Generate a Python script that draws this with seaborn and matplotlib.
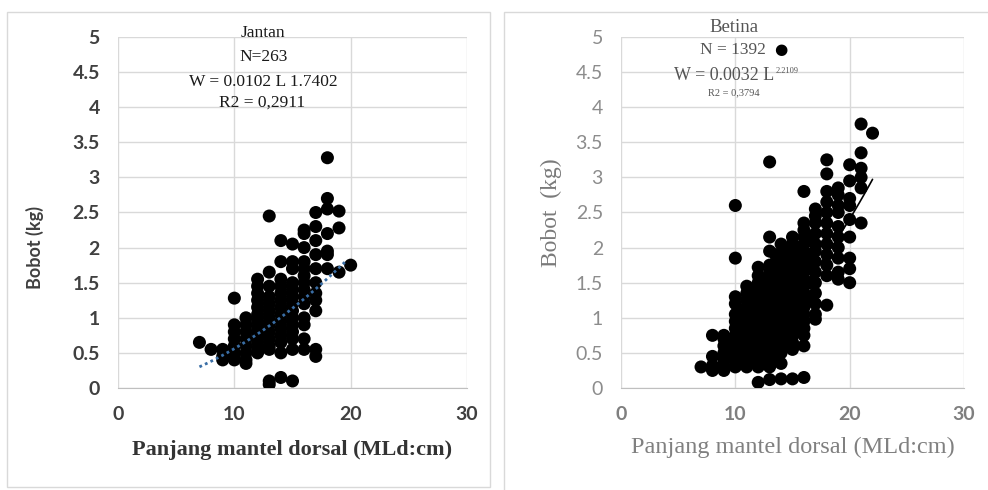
import numpy as np
import pandas as pd
import matplotlib
matplotlib.use("Agg")
import matplotlib.pyplot as plt
import seaborn as sns
from matplotlib.patches import Rectangle

# Jantan (jantan) - panjang mantel dorsal (cm) dan bobot (kg)
jantan_len = [7,
              8,
              9, 9, 9,
              10, 10, 10, 10, 10, 10, 10, 10,
              11, 11, 11, 11, 11, 11, 11, 11,
              12, 12, 12, 12, 12, 12, 12, 12, 12, 12, 12, 12,
              13, 13, 13, 13, 13, 13, 13, 13, 13, 13, 13, 13, 13, 13,
              14, 14, 14, 14, 14, 14, 14, 14, 14, 14, 14, 14, 14, 14,
              15, 15, 15, 15, 15, 15, 15, 15, 15, 15, 15, 15, 15, 15,
              16, 16, 16, 16, 16, 16, 16, 16, 16, 16, 16, 16, 16, 16,
              17, 17, 17, 17, 17, 17, 17, 17, 17, 17, 17,
              18, 18, 18, 18, 18, 18, 18,
              19, 19, 19,
              20]
jantan_bobot = [0.65,
                0.55,
                0.55, 0.45, 0.40,
                1.28, 0.90, 0.80, 0.70, 0.60, 0.50, 0.45, 0.40,
                1.00, 0.90, 0.80, 0.70, 0.60, 0.50, 0.40, 0.35,
                1.55, 1.45, 1.35, 1.25, 1.15, 1.05, 0.95, 0.85, 0.75, 0.65, 0.55, 0.50,
                2.45, 1.65, 1.45, 1.30, 1.20, 1.10, 1.00, 0.90, 0.80, 0.70, 0.60, 0.55, 0.10, 0.05,
                2.10, 1.80, 1.55, 1.45, 1.35, 1.25, 1.15, 1.05, 0.95, 0.85, 0.75, 0.65, 0.50, 0.15,
                2.05, 1.80, 1.70, 1.50, 1.40, 1.30, 1.20, 1.10, 1.00, 0.90, 0.80, 0.70, 0.55, 0.10,
                2.25, 2.20, 2.00, 1.80, 1.70, 1.60, 1.50, 1.40, 1.30, 1.20, 1.00, 0.90, 0.70, 0.55,
                2.50, 2.30, 2.10, 1.90, 1.70, 1.50, 1.35, 1.25, 1.10, 0.55, 0.45,
                3.28, 2.70, 2.55, 2.20, 1.95, 1.90, 1.70,
                2.52, 2.28, 1.65,
                1.75]

# Betina
betina_len = [7,
              8, 8, 8, 8,
              9, 9, 9, 9, 9, 9, 9,
              10, 10, 10, 10, 10, 10, 10, 10, 10, 10, 10, 10, 10,
              10.5, 10.5, 10.5, 10.5, 10.5, 10.5,
              11, 11, 11, 11, 11, 11, 11, 11, 11, 11, 11, 11, 11,
              11.5, 11.5, 11.5, 11.5, 11.5, 11.5, 11.5,
              12, 12, 12, 12, 12, 12, 12, 12, 12, 12, 12, 12, 12, 12, 12, 12,
              12.5, 12.5, 12.5, 12.5, 12.5, 12.5, 12.5, 12.5, 12.5,
              13, 13, 13, 13, 13, 13, 13, 13, 13, 13, 13, 13, 13, 13, 13, 13, 13, 13, 13, 13,
              13.5, 13.5, 13.5, 13.5, 13.5, 13.5, 13.5, 13.5, 13.5, 13.5, 13.5,
              14, 14, 14, 14, 14, 14, 14, 14, 14, 14, 14, 14, 14, 14, 14, 14, 14, 14,
              14.5, 14.5, 14.5, 14.5, 14.5, 14.5, 14.5, 14.5, 14.5, 14.5,
              15, 15, 15, 15, 15, 15, 15, 15, 15, 15, 15, 15, 15, 15, 15, 15, 15, 15,
              15.5, 15.5, 15.5, 15.5, 15.5, 15.5, 15.5, 15.5, 15.5,
              16, 16, 16, 16, 16, 16, 16, 16, 16, 16, 16, 16, 16, 16, 16, 16, 16, 16, 16, 16,
              16.5, 16.5, 16.5, 16.5, 16.5,
              17, 17, 17, 17, 17, 17, 17, 17, 17, 17, 17, 17, 17,
              18, 18, 18, 18, 18, 18, 18, 18, 18, 18, 18, 18,
              19, 19, 19, 19, 19, 19, 19, 19, 19, 19,
              20, 20, 20, 20, 20, 20, 20, 20, 20,
              21, 21, 21, 21, 21, 21,
              22]
betina_bobot = [0.30,
                0.25, 0.32, 0.45, 0.75,
                0.25, 0.32, 0.40, 0.50, 0.60, 0.70, 0.75,
                0.30, 0.38, 0.45, 0.55, 0.65, 0.75, 0.85, 0.95, 1.05, 1.20, 1.30, 1.85, 2.60,
                0.35, 0.50, 0.65, 0.80, 0.95, 1.10,
                0.30, 0.35, 0.45, 0.55, 0.65, 0.75, 0.85, 0.95, 1.05, 1.15, 1.25, 1.35, 1.45,
                0.40, 0.55, 0.70, 0.85, 1.00, 1.15, 1.30,
                0.08, 0.30, 0.40, 0.50, 0.60, 0.70, 0.80, 0.90, 1.00, 1.10, 1.20, 1.30, 1.40, 1.50, 1.60, 1.72,
                0.35, 0.50, 0.65, 0.80, 0.95, 1.10, 1.25, 1.40, 1.55,
                0.12, 0.30, 0.35, 0.45, 0.55, 0.65, 0.75, 0.85, 0.95, 1.05, 1.15, 1.25, 1.35, 1.45, 1.55, 1.65, 1.75, 1.95, 2.15, 3.22,
                0.40, 0.55, 0.70, 0.85, 1.00, 1.15, 1.30, 1.45, 1.60, 1.75, 1.90,
                0.13, 0.35, 0.50, 0.60, 0.70, 0.80, 0.90, 1.00, 1.10, 1.20, 1.30, 1.40, 1.50, 1.60, 1.70, 1.80, 1.90, 2.05,
                0.60, 0.75, 0.90, 1.05, 1.20, 1.35, 1.50, 1.65, 1.80, 1.95,
                0.13, 0.55, 0.65, 0.75, 0.85, 0.95, 1.05, 1.15, 1.25, 1.35, 1.45, 1.55, 1.65, 1.75, 1.85, 1.95, 2.05, 2.15,
                0.80, 0.95, 1.10, 1.25, 1.40, 1.55, 1.70, 1.85, 2.00,
                0.15, 0.60, 0.75, 0.85, 0.95, 1.05, 1.15, 1.25, 1.35, 1.45, 1.55, 1.65, 1.75, 1.85, 1.95, 2.05, 2.15, 2.25, 2.35, 2.80,
                1.30, 1.50, 1.70, 1.90, 2.10,
                0.98, 1.05, 1.20, 1.35, 1.50, 1.65, 1.80, 1.95, 2.05, 2.20, 2.35, 2.45, 2.55,
                1.18, 1.60, 1.75, 1.90, 2.05, 2.20, 2.35, 2.50, 2.65, 2.80, 3.05, 3.25,
                1.55, 1.65, 1.85, 2.00, 2.15, 2.30, 2.50, 2.60, 2.75, 2.85,
                1.50, 1.70, 1.85, 2.15, 2.40, 2.60, 2.70, 2.95, 3.18,
                2.35, 2.85, 3.00, 3.13, 3.35, 3.76,
                3.63]

# persamaan W = a L^b
jantan_a, jantan_b = 0.0102, 1.7402
betina_a, betina_b = 0.0032, 2.2109

x_ticks = [0, 10, 20, 30]
y_ticks = [0, 0.5, 1, 1.5, 2, 2.5, 3, 3.5, 4, 4.5, 5]
y_ticklabels = ["0", "0.5", "1", "1.5", "2", "2.5", "3", "3.5", "4", "4.5", "5"]

sns.set_style("white")
plt.rcParams["font.family"] = ["Lato", "DejaVu Sans"]

fig = plt.figure(figsize=(9.88, 4.9), dpi=100)
W, H = 988, 490

def px(x0, y0, x1, y1):
    return [x0 / W, 1 - y1 / H, (x1 - x0) / W, (y1 - y0) / H]

# bingkai panel
fig.add_artist(Rectangle((7 / W, 1 - 487 / H), 483 / W, 475 / H, transform=fig.transFigure,
                         fill=False, edgecolor="#d9d9d9", lw=1))
fig.add_artist(Rectangle((504 / W, -0.01), 0.6, 1 - 12 / H + 0.01, transform=fig.transFigure,
                         fill=False, edgecolor="#d9d9d9", lw=1))

ax1 = fig.add_axes(px(118, 37, 467, 388))
ax2 = fig.add_axes(px(621, 37, 964, 388))

df_j = pd.DataFrame({"len": jantan_len, "bobot": jantan_bobot})
df_b = pd.DataFrame({"len": betina_len, "bobot": betina_bobot})

sns.scatterplot(data=df_j, x="len", y="bobot", ax=ax1, color="black", s=88,
                edgecolor="none", zorder=3)
sns.scatterplot(data=df_b, x="len", y="bobot", ax=ax2, color="black", s=88,
                edgecolor="none", zorder=3)

Lj = np.linspace(7, 19.6, 40)
sns.lineplot(x=Lj, y=jantan_a * Lj ** jantan_b, ax=ax1, color="#3a6ea5",
             lw=2, linestyle=(0, (1, 1.2)), zorder=4)
Lb = np.linspace(7, 22, 40)
sns.lineplot(x=Lb, y=betina_a * Lb ** betina_b, ax=ax2, color="black",
             lw=1.2, zorder=2)

for ax in (ax1, ax2):
    ax.set_xlim(0, 30)
    ax.set_ylim(0, 5)
    ax.set_xticks(x_ticks)
    ax.set_yticks(y_ticks)
    ax.set_yticklabels(y_ticklabels)
    ax.grid(True, color="#d9d9d9", lw=1)
    ax.set_axisbelow(True)
    for s in ("top", "right", "left"):
        ax.spines[s].set_visible(False)
    ax.spines["bottom"].set_color("#bfbfbf")
    ax.tick_params(length=0)
    ax.tick_params(axis="y", pad=13)
    ax.tick_params(axis="x", pad=13)

# panel kiri
for lab in ax1.get_xticklabels() + ax1.get_yticklabels():
    lab.set_fontsize(14)
    lab.set_fontweight("bold")
    lab.set_color("#404040")
ax1.set_xlabel("Panjang mantel dorsal (MLd:cm)", family="Liberation Serif",
               fontsize=16, fontweight="bold", color="#333333", labelpad=12)
ax1.set_ylabel("Bobot (kg)", fontsize=13, fontweight="bold", color="#404040")
ax1.yaxis.set_label_coords(-0.212, 0.40)

# panel kanan
for lab in ax2.get_yticklabels():
    lab.set_fontsize(14)
    lab.set_color("#8c8c8c")
for lab in ax2.get_xticklabels():
    lab.set_fontsize(14)
    lab.set_fontweight("bold")
    lab.set_color("#7f7f7f")
ax2.set_xlabel("Panjang mantel dorsal (MLd:cm)", family="Liberation Serif",
               fontsize=17.5, color="#808080", labelpad=10)
ax2.set_ylabel("Bobot  (kg)", family="Liberation Serif", fontsize=17, color="#7a7a7a")
ax2.yaxis.set_label_coords(-0.172, 0.5)

# anotasi
serif = ["Liberation Serif", "DejaVu Sans"]
ink = "#1a1a1a"
fig.text(263 / W, 1 - 33 / H, "Jantan", family=serif, fontsize=12.5, ha="center", va="center", color=ink)
fig.text(264 / W, 1 - 57 / H, "N=263", family=serif, fontsize=12.5, ha="center", va="center", color=ink)
fig.text(263 / W, 1 - 82 / H, "W = 0.0102 L 1.7402", family=serif, fontsize=12.5, ha="center", va="center", color=ink)
fig.text(262 / W, 1 - 103 / H, "R2 = 0,2911", family=serif, fontsize=12.5, ha="center", va="center", color=ink)

grey = "#555555"
fig.text(734 / W, 1 - 28 / H, "Betina", family=serif, fontsize=13.5, ha="center", va="center", color=grey)
fig.text(733 / W, 1 - 50 / H, "N = 1392", family=serif, fontsize=12.5, ha="center", va="center", color=grey)
fig.text(781 / W, 1 - 50 / H, "●", family=["DejaVu Sans"], fontsize=11, ha="center", va="center", color="black")
fig.text(774 / W, 1 - 75 / H, "W = 0.0032 L", family=serif, fontsize=13, ha="right", va="center", color=grey)
fig.text(776 / W, 1 - 71 / H, "2.2109", family=serif, fontsize=6, ha="left", va="center", color=grey)
fig.text(734 / W, 1 - 93 / H, "R2 = 0,3794", family=serif, fontsize=7.5, ha="center", va="center", color=grey)

fig.savefig("out.png", dpi=100)
